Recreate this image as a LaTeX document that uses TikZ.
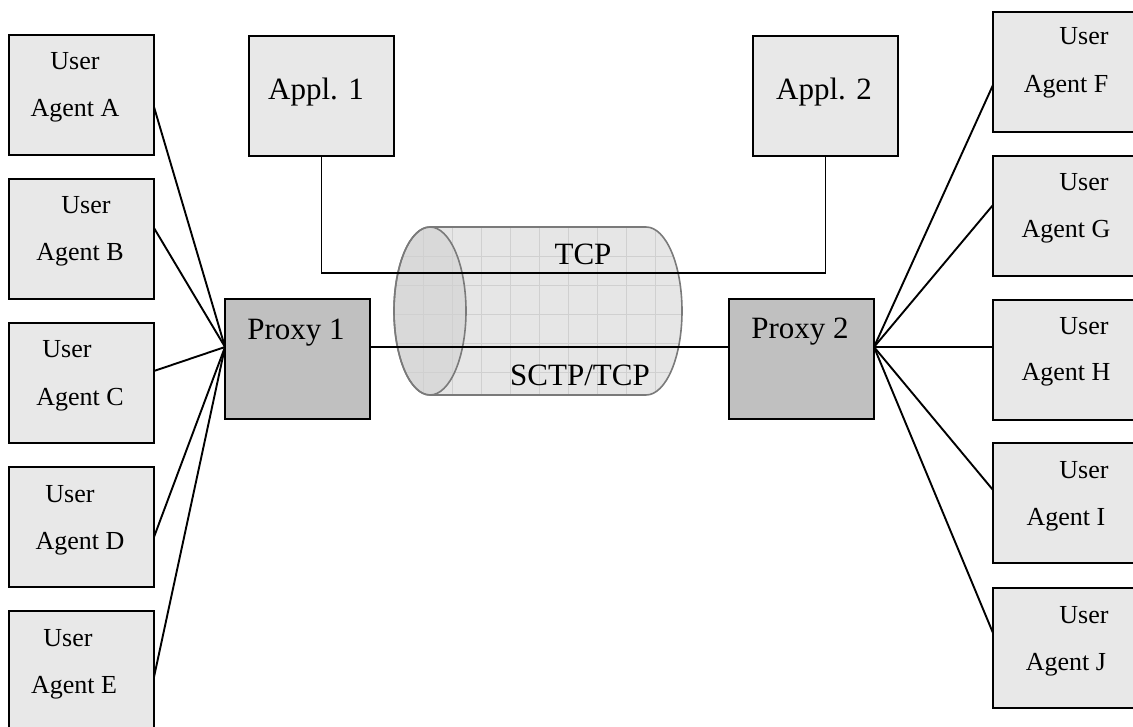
\documentclass[tikz,border=0pt]{standalone}
\usepackage{fontspec}
\setmainfont{Liberation Serif}
\definecolor{boxfill}{HTML}{E8E8E8}
\definecolor{proxyfill}{HTML}{C0C0C0}
\definecolor{cylfill}{HTML}{E6E6E6}
\definecolor{cylface}{HTML}{D9D9D9}
\definecolor{cyledge}{HTML}{7A7A7A}
\definecolor{cylgrid}{HTML}{D0D0D0}
\tikzset{
  box/.style={draw=black, line width=2pt, fill=boxfill, minimum width=145pt, minimum height=120pt, inner sep=0pt, outer sep=0pt, anchor=north west},
  proxybox/.style={box, fill=proxyfill},
  uatext/.style={font=\fontsize{26}{30}\selectfont, anchor=base, inner sep=0pt},
  bigtext/.style={font=\fontsize{31}{36}\selectfont, anchor=base, inner sep=0pt},
  wire/.style={draw=black, line width=1.9pt},
}
\begin{document}
\begin{tikzpicture}[x=1pt,y=1pt]
\clip (0,-727) rectangle (1133,0);

% ---- cylinder ----
\def\cylpath{(430,-227) -- (646,-227) arc[start angle=90, end angle=-90, x radius=36pt, y radius=84pt] -- (430,-395) arc[start angle=270, end angle=90, x radius=36pt, y radius=84pt] -- cycle}
\fill[cylfill] \cylpath;
\fill[cylface] (430,-311) ellipse [x radius=36pt, y radius=84pt];
\begin{scope}
  \clip \cylpath;
  \foreach \gx in {394,423,452,481,510,539,568,597,626,655} {
    \draw[cylgrid, line width=0.8pt] (\gx,-220) -- (\gx,-400);
  }
  \foreach \gy in {-227,-256,-285,-314,-343,-372} {
    \draw[cylgrid, line width=0.8pt] (390,\gy) -- (690,\gy);
  }
\end{scope}
\draw[cyledge, line width=1.6pt] \cylpath;
\draw[cyledge, line width=1.6pt] (430,-311) ellipse [x radius=36pt, y radius=84pt];

% ---- left user agents ----
\node[box] (uaA) at (9,-35) {};
\node[box] (uaB) at (9,-179) {};
\node[box] (uaC) at (9,-323) {};
\node[box] (uaD) at (9,-467) {};
\node[box] (uaE) at (9,-611) {};

% ---- right user agents ----
\node[box] (uaF) at (993,-12) {};
\node[box] (uaG) at (993,-156) {};
\node[box] (uaH) at (993,-300) {};
\node[box] (uaI) at (993,-443) {};
\node[box] (uaJ) at (993,-588) {};

% ---- applications and proxies ----
\node[box] (a1) at (249,-36) {};
\node[box] (a2) at (753,-36) {};
\node[proxybox] (p1) at (225,-299) {};
\node[proxybox] (p2) at (729,-299) {};

% ---- connectors ----
\draw[wire] ([yshift=-48pt]p1.north west) -- ([yshift=-72pt]uaA.north east);
\draw[wire] ([yshift=-48pt]p1.north west) -- ([yshift=-49pt]uaB.north east);
\draw[wire] ([yshift=-48pt]p1.north west) -- ([yshift=-48pt]uaC.north east);
\draw[wire] ([yshift=-48pt]p1.north west) -- ([yshift=-70pt]uaD.north east);
\draw[wire] ([yshift=-48pt]p1.north west) -- ([yshift=-66pt]uaE.north east);

\draw[wire] ([yshift=-48pt]p2.north east) -- ([yshift=-73pt]uaF.north west);
\draw[wire] ([yshift=-48pt]p2.north east) -- ([yshift=-49pt]uaG.north west);
\draw[wire] ([yshift=-48pt]p2.north east) -- ([yshift=-47pt]uaH.north west);
\draw[wire] ([yshift=-48pt]p2.north east) -- ([yshift=-47pt]uaI.north west);
\draw[wire] ([yshift=-48pt]p2.north east) -- ([yshift=-45pt]uaJ.north west);

\draw[wire] ([yshift=-48pt]p1.north east) -- ([yshift=-48pt]p2.north west);
\draw[wire] (a1.south) -- ++(0,-117) -| (a2.south);

% ---- texts ----
\node[uatext] (tA1) at (75,-70) {User};
\node[uatext] (tA2) at (75,-117) {Agent A};
\node[uatext] (tB1) at (86,-214) {User};
\node[uatext] (tB2) at (80,-261) {Agent B};
\node[uatext] (tC1) at (67,-358) {User};
\node[uatext] (tC2) at (80,-405) {Agent C};
\node[uatext] (tD1) at (70,-502) {User};
\node[uatext] (tD2) at (80,-549) {Agent D};
\node[uatext] (tE1) at (68,-646) {User};
\node[uatext] (tE2) at (74,-693) {Agent E};

\node[uatext] (tF1) at (1084,-45) {User};
\node[uatext] (tF2) at (1066,-93) {Agent F};
\node[uatext] (tG1) at (1084,-191) {User};
\node[uatext] (tG2) at (1066,-238) {Agent G};
\node[uatext] (tH1) at (1084,-335) {User};
\node[uatext] (tH2) at (1066,-381) {Agent H};
\node[uatext] (tI1) at (1084,-478) {User};
\node[uatext] (tI2) at (1066,-525) {Agent I};
\node[uatext] (tJ1) at (1084,-623) {User};
\node[uatext] (tJ2) at (1066,-670) {Agent J};

\node[bigtext] (ta1) at (316,-100) {Appl. 1};
\node[bigtext] (ta2) at (824,-100) {Appl. 2};
\node[bigtext] (tp1) at (296,-340) {Proxy 1};
\node[bigtext] (tp2) at (800,-339) {Proxy 2};
\node[bigtext] (ttcp) at (583,-265) {TCP};
\node[bigtext] (tsctp) at (580,-385) {SCTP/TCP};
\end{tikzpicture}
\end{document}
